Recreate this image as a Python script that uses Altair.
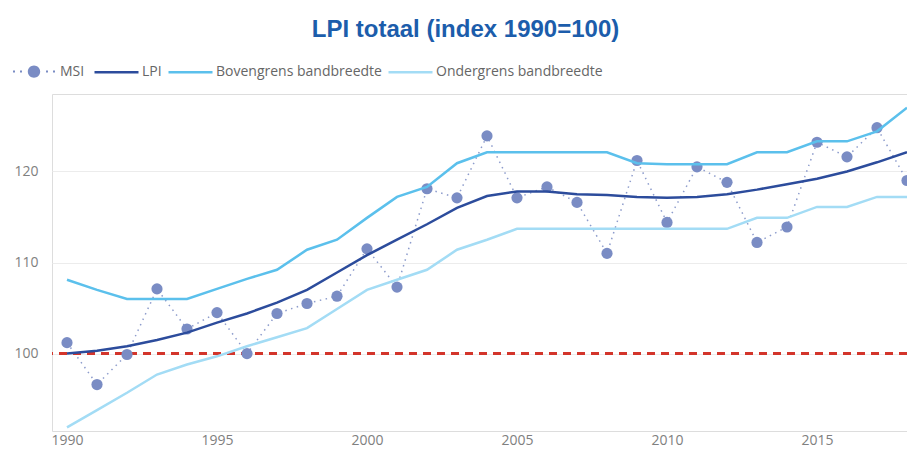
import altair as alt
import pandas as pd

years = [1990, 1991, 1992, 1993, 1994, 1995, 1996, 1997, 1998, 1999,
         2000, 2001, 2002, 2003, 2004, 2005, 2006, 2007, 2008, 2009,
         2010, 2011, 2012, 2013, 2014, 2015, 2016, 2017, 2018]
msi = [101.2, 96.6, 99.9, 107.1, 102.7, 104.5, 100.0, 104.4, 105.5, 106.3,
       111.5, 107.3, 118.1, 117.1, 123.9, 117.1, 118.3, 116.6, 111.0, 121.2,
       114.4, 120.5, 118.8, 112.2, 113.9, 123.2, 121.6, 124.8, 119.0]
lpi = [100.0, 100.3, 100.8, 101.5, 102.3, 103.4, 104.4, 105.6, 107.0, 108.9,
       110.8, 112.5, 114.2, 116.0, 117.3, 117.8, 117.8, 117.5, 117.4, 117.2,
       117.1, 117.2, 117.5, 118.0, 118.6, 119.2, 120.0, 121.0, 122.1]
bovengrens = [108.1, 107.0, 106.0, 106.0, 106.0, 107.1, 108.2, 109.2, 111.4, 112.5,
              114.9, 117.2, 118.3, 120.9, 122.1, 122.1, 122.1, 122.1, 122.1, 120.9,
              120.8, 120.8, 120.8, 122.1, 122.1, 123.3, 123.3, 124.4, 127.0]
ondergrens = [91.9, 93.8, 95.7, 97.7, 98.8, 99.7, 100.8, 101.8, 102.8, 104.9,
              107.0, 108.1, 109.2, 111.4, 112.5, 113.7, 113.7, 113.7, 113.7, 113.7,
              113.7, 113.7, 113.7, 114.9, 114.9, 116.1, 116.1, 117.2, 117.2]
series_names = ["LPI", "Bovengrens bandbreedte", "Ondergrens bandbreedte"]
series_colors = ["#2c4c9c", "#5bc0ec", "#a3dcf5"]
baseline = [100]
x_ticks = [1990, 1995, 2000, 2005, 2010, 2015]
y_ticks = [100, 110, 120]
title_text = "LPI totaal (index 1990=100)"

msi_df = pd.DataFrame({"jaar": years, "waarde": msi, "serie": "MSI"})
lines_df = pd.concat([
    pd.DataFrame({"jaar": years, "waarde": vals, "serie": name, "ord": i})
    for i, (name, vals) in enumerate(zip(series_names, [lpi, bovengrens, ondergrens]))
])
base_df = pd.DataFrame({"y": baseline})

xscale = alt.Scale(domain=[1989.5, 2018], nice=False, zero=False)
yscale = alt.Scale(domain=[91.5, 128.5], nice=False, zero=False)

xaxis = alt.Axis(values=x_ticks, format="d", title=None, grid=False, domain=False,
                 ticks=False, labelPadding=2, labelFont="Open Sans", labelFontSize=14,
                 labelColor="#808080")
yaxis = alt.Axis(values=y_ticks, title=None, grid=True, gridColor="#ececec", domain=False,
                 ticks=False, labelPadding=14, labelFont="Open Sans", labelFontSize=14,
                 labelColor="#808080")

r = 22.0
def u(px):
    return round(px / r, 4)
cr = u(6.2)
d = u(1.0)
dot_path = "M{a},0A{b},{b},0,1,0,{c},0A{b},{b},0,1,0,{a},0Z".format(a=-cr, b=cr, c=cr)
for cx in [-20, -13, 13, 20]:
    dot_path += "M{x},{y}h{w}v{w}h{nw}Z".format(x=u(cx) - d, y=-d, w=2 * d, nw=-2 * d)

rule = alt.Chart(base_df).mark_rule(color="#d3352b", strokeWidth=3, strokeDash=[8, 6]).encode(
    y=alt.Y("y:Q", scale=yscale, axis=yaxis)
)

msi_line = alt.Chart(msi_df).mark_line(color="#8d9ccc", strokeWidth=1.5, strokeDash=[1.5, 4.5]).encode(
    x=alt.X("jaar:Q", scale=xscale, axis=xaxis),
    y=alt.Y("waarde:Q", scale=yscale, axis=yaxis),
)

msi_pts = alt.Chart(msi_df).mark_circle(size=125, opacity=1).encode(
    x=alt.X("jaar:Q", scale=xscale, axis=xaxis),
    y=alt.Y("waarde:Q", scale=yscale, axis=yaxis),
    fill=alt.Fill("serie:N", scale=alt.Scale(domain=["MSI"], range=["#7a8cc4"]),
                  legend=alt.Legend(title=None, orient="none", legendX=-41, legendY=-45.4,
                                    padding=0, symbolType=dot_path, symbolSize=int((2 * r) ** 2),
                                    symbolOpacity=1, labelOffset=3, labelFont="Open Sans",
                                    labelFontSize=14, labelColor="#666666")),
)

lines = alt.Chart(lines_df).mark_line(strokeWidth=2.5).encode(
    x=alt.X("jaar:Q", scale=xscale, axis=xaxis),
    y=alt.Y("waarde:Q", scale=yscale, axis=yaxis),
    stroke=alt.Stroke("serie:N", scale=alt.Scale(domain=series_names, range=series_colors),
                      legend=alt.Legend(title=None, orient="none", legendX=41, legendY=-45.4,
                                        direction="horizontal", columns=3, padding=0,
                                        symbolType="stroke", symbolSize=44 * 44,
                                        symbolStrokeWidth=2.5, labelOffset=2, columnPadding=1,
                                        labelFont="Open Sans", labelFontSize=14,
                                        labelColor="#666666", labelLimit=300)),
    order=alt.Order("ord:Q", sort="descending"),
    detail="serie:N",
)

chart = alt.layer(rule, msi_line, msi_pts, lines).resolve_legend(fill="independent", stroke="independent").properties(
    width=855,
    height=337,
    title=alt.TitleParams(title_text, font="Liberation Sans", fontSize=24, fontWeight="bold",
                          color="#1c5dab", anchor="middle", frame="group", dx=-14, dy=22,
                          offset=10, baseline="alphabetic"),
    autosize=alt.AutoSizeParams(type="none"),
    padding={"left": 44, "top": 86, "right": 0, "bottom": 17},
).configure_view(stroke=None).configure(background="white")

chart.save("out.html", embed_options={"renderer": "svg", "actions": False})
